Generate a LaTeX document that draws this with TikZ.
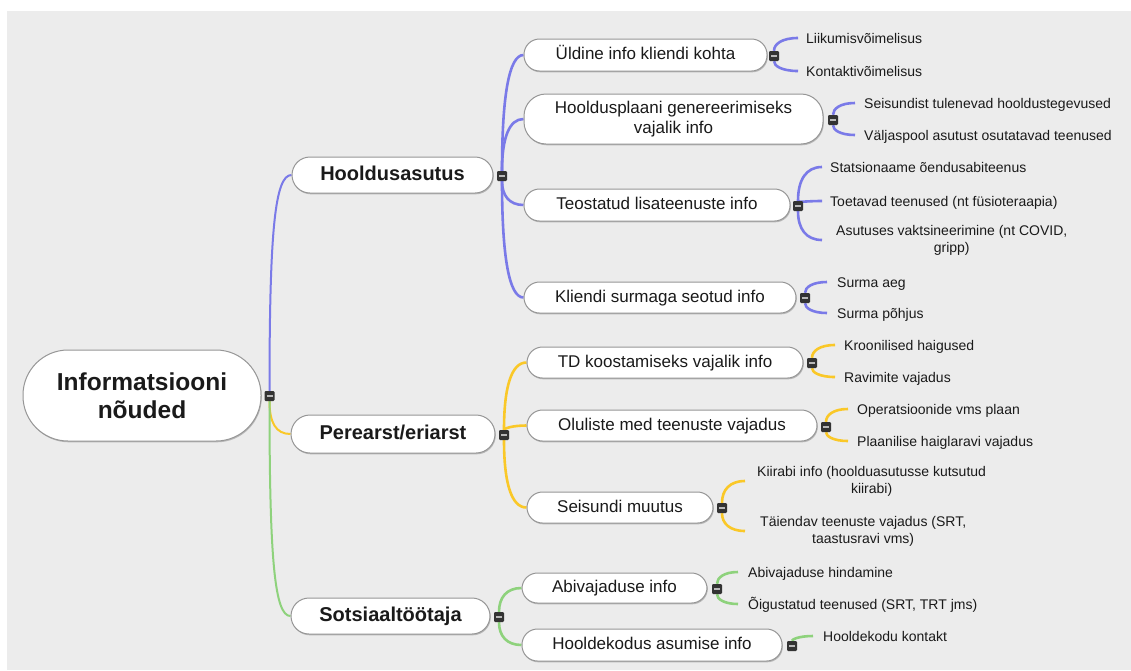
\documentclass[tikz,border=0pt]{standalone}
\usepackage{fontspec}
\setmainfont{Liberation Sans}
\usetikzlibrary{calc,shadows,backgrounds}
\definecolor{bgc}{RGB}{236,236,236}
\definecolor{cblue}{RGB}{122,122,232}
\definecolor{cyel}{RGB}{250,200,40}
\definecolor{cgrn}{RGB}{142,210,124}
\definecolor{txt}{RGB}{26,26,26}
\definecolor{bord}{RGB}{150,150,150}
\definecolor{btnc}{RGB}{51,51,51}
\newcommand\btnminus{\rule[-0.75pt]{6pt}{1.5pt}}
\newcommand\conn[5]{\draw[#1] (#2) .. controls ($(#2)!#4!(#2|-#3)$) and ($(#3)!#5!(#2|-#3)$) .. (#3);}
\tikzset{
 box/.style={draw=bord, line width=1pt, fill=white, text=txt, inner sep=0pt, align=center,
   drop shadow={shadow xshift=0.8pt, shadow yshift=-1.3pt, opacity=0.22, fill=black}},
 rootbox/.style={box, font=\bfseries\fontsize{24.5}{28}\selectfont, rounded corners=45pt},
 lvone/.style={box, font=\bfseries\fontsize{20}{24}\selectfont, rounded corners=18pt, text height=15pt, text depth=4.5pt},
 twobase/.style={box, font=\fontsize{17}{20}\selectfont, rounded corners=15.5pt},
 lvtwo/.style={twobase, text height=12.5pt, text depth=3.5pt},
 leaf/.style={anchor=west, text=txt, font=\fontsize{14}{17}\selectfont, inner ysep=0pt, inner xsep=#1, text height=12.5pt, text depth=1.5pt},
 leafm/.style={anchor=west, text=txt, font=\fontsize{14}{17}\selectfont, inner ysep=0pt, inner xsep=#1, align=center},
 btn/.style={fill=btnc, minimum size=10pt, inner sep=0pt, rounded corners=1.2pt, text=gray!55},
 rootline/.style={line width=2pt},
 subline/.style={line width=2.6pt},
}
\begin{document}
\begin{tikzpicture}[x=1pt,y=-1pt]
\useasboundingbox (0,0) rectangle (1131,670);
% root
\node[rootbox, minimum width=238pt, minimum height=91pt] (root) at (142,395.5) {Informatsiooni\\nõuded};
\node[btn] (bR) at (269.5,396) {\btnminus};
% level 1
\node[lvone, minimum width=201pt, minimum height=36pt] (H) at (392.5,175) {Hooldusasutus};
\node[btn] (bH) at (502,176) {\btnminus};
\node[lvone, minimum width=204pt, minimum height=38pt, rounded corners=19pt] (P) at (393,434) {Perearst/eriarst};
\node[btn] (bP) at (504,435) {\btnminus};
\node[lvone, minimum width=199pt, minimum height=36pt] (S) at (390.5,616) {Sotsiaaltöötaja};
\node[btn] (bS) at (499,617) {\btnminus};
% level 2 blue
\node[lvtwo, minimum width=243pt, minimum height=32pt] (H1) at (645.5,55) {Üldine info kliendi kohta};
\node[btn] (bH1) at (774,56) {\btnminus};
\node[twobase, minimum width=299pt, minimum height=50pt, rounded corners=22pt] (H2) at (673.5,119) {Hooldusplaani genereerimiseks\\vajalik info};
\node[btn] (bH2) at (833,120) {\btnminus};
\node[lvtwo, minimum width=266pt, minimum height=32pt] (H3) at (657,205) {Teostatud lisateenuste info};
\node[btn] (bH3) at (798,206) {\btnminus};
\node[lvtwo, minimum width=272pt, minimum height=31pt] (H4) at (660,297.5) {Kliendi surmaga seotud info};
\node[btn] (bH4) at (805,298) {\btnminus};
% level 2 yellow
\node[lvtwo, minimum width=276pt, minimum height=31pt] (P1) at (665,362.5) {TD koostamiseks vajalik info};
\node[btn] (bP1) at (812,363) {\btnminus};
\node[lvtwo, minimum width=290pt, minimum height=31pt] (P2) at (672,425.5) {Oluliste med teenuste vajadus};
\node[btn] (bP2) at (826,427) {\btnminus};
\node[lvtwo, minimum width=186pt, minimum height=31pt] (P3) at (620,507.5) {Seisundi muutus};
\node[btn] (bP3) at (722,508) {\btnminus};
% level 2 green
\node[lvtwo, minimum width=185pt, minimum height=30pt] (S1) at (614.5,588) {Abivajaduse info};
\node[btn] (bS1) at (717,589) {\btnminus};
\node[lvtwo, minimum width=260pt, minimum height=32pt] (S2) at (652,645) {Hooldekodus asumise info};
\node[btn] (bS2) at (792,646) {\btnminus};
% leaves blue
\node[leaf=8pt] (l1) at (798,38) {Liikumisvõimelisus};
\node[leaf=8pt] (l2) at (798,71) {Kontaktivõimelisus};
\node[leaf=9pt] (l3) at (855,103) {Seisundist tulenevad hooldustegevused};
\node[leaf=9pt] (l4) at (855,135) {Väljaspool asutust osutatavad teenused};
\node[leaf=8pt] (l5) at (822,167) {Statsionaame õendusabiteenus};
\node[leaf=8pt] (l6) at (822,201) {Toetavad teenused (nt füsioteraapia)};
\node[leafm=14pt] (l7) at (822,240) {Asutuses vaktsineerimine (nt COVID,\\gripp)};
\node[leaf=10pt] (l8) at (827,282) {Surma aeg};
\node[leaf=10pt] (l9) at (827,313) {Surma põhjus};
% leaves yellow
\node[leaf=9pt] (l10) at (835,345) {Kroonilised haigused};
\node[leaf=9pt] (l11) at (835,377) {Ravimite vajadus};
\node[leaf=9pt] (l12) at (848,409) {Operatsioonide vms plaan};
\node[leaf=9pt] (l13) at (848,441) {Plaanilise haiglaravi vajadus};
\node[leafm=12pt] (l14) at (745,481) {Kiirabi info (hoolduasutusse kutsutud\\kiirabi)};
\node[leafm=15pt] (l15) at (745,531) {Täiendav teenuste vajadus (SRT,\\taastusravi vms)};
% leaves green
\node[leaf=10pt] (l16) at (738,572) {Abivajaduse hindamine};
\node[leaf=10pt] (l17) at (738,604) {Õigustatud teenused (SRT, TRT jms)};
\node[leaf=10pt] (l18) at (813,636) {Hooldekodu kontakt};
% background and connectors
\begin{scope}[on background layer]
\fill[bgc] (7,11) rectangle (1131,670);
\conn{cblue,rootline}{bR}{H.west}{0.75}{0.75}
\conn{cyel,rootline}{bR}{P.west}{0.7}{0.7}
\conn{cgrn,rootline}{bR}{S.west}{0.75}{0.75}
\conn{cblue,subline}{bH}{H1.west}{0.667}{0.667}
\conn{cblue,subline}{bH}{H2.west}{0.667}{0.667}
\conn{cblue,subline}{bH}{H3.west}{0.667}{0.667}
\conn{cblue,subline}{bH}{H4.west}{0.667}{0.667}
\conn{cyel,subline}{bP}{P1.west}{0.667}{0.667}
\conn{cyel,subline}{bP}{P2.west}{0.667}{0.667}
\conn{cyel,subline}{bP}{P3.west}{0.667}{0.667}
\conn{cgrn,subline}{bS}{S1.west}{0.667}{0.667}
\conn{cgrn,subline}{bS}{S2.west}{0.667}{0.667}
\conn{cblue,subline}{bH1}{l1.west}{0.667}{0.667}
\conn{cblue,subline}{bH1}{l2.west}{0.667}{0.667}
\conn{cblue,subline}{bH2}{l3.west}{0.667}{0.667}
\conn{cblue,subline}{bH2}{l4.west}{0.667}{0.667}
\conn{cblue,subline}{bH3}{l5.west}{0.667}{0.667}
\conn{cblue,subline}{bH3}{l6.west}{0.667}{0.667}
\conn{cblue,subline}{bH3}{l7.west}{0.667}{0.667}
\conn{cblue,subline}{bH4}{l8.west}{0.667}{0.667}
\conn{cblue,subline}{bH4}{l9.west}{0.667}{0.667}
\conn{cyel,subline}{bP1}{l10.west}{0.667}{0.667}
\conn{cyel,subline}{bP1}{l11.west}{0.667}{0.667}
\conn{cyel,subline}{bP2}{l12.west}{0.667}{0.667}
\conn{cyel,subline}{bP2}{l13.west}{0.667}{0.667}
\conn{cyel,subline}{bP3}{l14.west}{0.667}{0.667}
\conn{cyel,subline}{bP3}{l15.west}{0.667}{0.667}
\conn{cgrn,subline}{bS1}{l16.west}{0.667}{0.667}
\conn{cgrn,subline}{bS1}{l17.west}{0.667}{0.667}
\conn{cgrn,subline}{bS2}{l18.west}{0.667}{0.667}
\end{scope}
\end{tikzpicture}
\end{document}
